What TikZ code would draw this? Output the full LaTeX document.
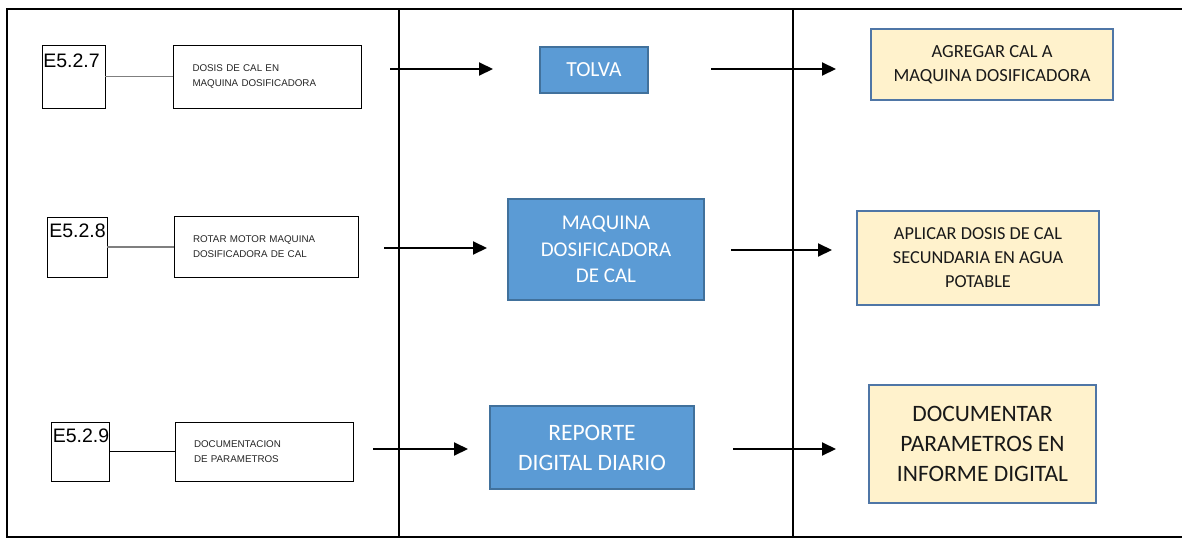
\documentclass[tikz,border=0pt]{standalone}
\usepackage{fontspec}
\setmainfont{Carlito}
\newfontfamily\arialfont{Liberation Sans}
\usetikzlibrary{calc,arrows.meta}

\definecolor{procblue}{HTML}{5B9BD5}
\definecolor{procedge}{HTML}{41719C}
\definecolor{taskfill}{HTML}{FFF2CC}
\definecolor{taskedge}{HTML}{4F76A6}
\definecolor{linkgray}{HTML}{7F7F7F}

\begin{document}
\begin{tikzpicture}[x=1pt,y=-1pt,
  frameline/.style={line width=2pt, black},
  codebox/.style={draw=black, line width=0.9pt, fill=white, inner sep=0pt},
  codetext/.style={anchor=base west, inner sep=0pt, font=\arialfont\fontsize{19.5}{22}\selectfont},
  descbox/.style={draw=black, line width=0.9pt, fill=white, inner xsep=19pt, inner ysep=0pt,
    align=left, font=\arialfont\fontsize{9.8}{14.3}\selectfont, text=black!85},
  procbox/.style={draw=procedge, line width=1.6pt, fill=procblue, text=white, align=center, inner sep=0pt},
  taskbox/.style={draw=taskedge, line width=2.4pt, fill=taskfill, text=black!90, align=center, inner sep=0pt},
  flow/.style={line width=2pt, -{Triangle[length=14pt,width=13pt]}},
  link/.style={line width=1.4pt}
]
\useasboundingbox (0,0) rectangle (1182,538);
\fill[white] (0,0) rectangle (1182,538);

% outer frame and column dividers
\draw[frameline] (1182,9) -- (7,9) -- (7,537) -- (1182,537);
\draw[frameline] (399,9) -- (399,537);
\draw[frameline] (793,9) -- (793,537);

% ---- row 1 ----
\node[codebox, minimum width=63pt, minimum height=63pt] (e1) at (73.5,76.5) {};
\node[codetext] (e1t) at ($(e1.north west)+(1.5,23)$) {E5.2.7};
\node[descbox, text width=150pt, minimum height=63pt] (d1) at (267.5,76.5)
  {DOSIS DE CAL EN\\MAQUINA DOSIFICADORA};
\draw[link, linkgray] (e1.east) -- (e1.east -| d1.west);

\node[procbox, minimum width=108pt, minimum height=46pt,
  font=\fontsize{21.5}{26}\selectfont] (p1) at (594,70) {TOLVA};
\node[taskbox, minimum width=242pt, minimum height=71pt,
  font=\fontsize{18.5}{23.5}\selectfont] (t1) at (992,64.5)
  {AGREGAR CAL A\\MAQUINA DOSIFICADORA};

\coordinate (a1s) at (390,69);
\coordinate (a1e) at (493,69);
\coordinate (b1s) at (711,69);
\coordinate (b1e) at (836,69);
\draw[flow] (a1s) -- (a1e);
\draw[flow] (b1s) -- (b1e);

% ---- row 2 ----
\node[codebox, minimum width=60pt, minimum height=60pt] (e2) at (77,247) {};
\node[codetext] (e2t) at ($(e2.north west)+(2.5,21)$) {E5.2.8};
\node[descbox, text width=146pt, minimum height=61pt] (d2) at (266,246.5)
  {ROTAR MOTOR MAQUINA\\DOSIFICADORA DE CAL};
\draw[link, linkgray] (e2.east) -- (e2.east -| d2.west);

\node[procbox, minimum width=196pt, minimum height=101pt,
  font=\fontsize{21}{26.5}\selectfont] (p2) at (606,249.5)
  {MAQUINA\\DOSIFICADORA\\DE CAL};
\node[taskbox, minimum width=242pt, minimum height=94pt,
  font=\fontsize{18.3}{24}\selectfont] (t2) at (978,258)
  {APLICAR DOSIS DE CAL\\SECUNDARIA EN AGUA\\POTABLE};

\coordinate (a2s) at (384,248);
\coordinate (a2e) at (487,248);
\coordinate (b2s) at (731,250);
\coordinate (b2e) at (832,250);
\draw[flow] (a2s) -- (a2e);
\draw[flow] (b2s) -- (b2e);

% ---- row 3 ----
\node[codebox, minimum width=58pt, minimum height=59pt] (e3) at (80,451.5) {};
\node[codetext] (e3t) at ($(e3.north west)+(2,21)$) {E5.2.9};
\node[descbox, text width=140pt, minimum height=59pt] (d3) at (264,451.5)
  {DOCUMENTACION\\DE PARAMETROS};
\draw[link, black] (e3.east) -- (e3.east -| d3.west);

\node[procbox, minimum width=204pt, minimum height=83pt,
  font=\fontsize{23.5}{30}\selectfont] (p3) at (592,447.5)
  {REPORTE\\DIGITAL DIARIO};
\node[taskbox, minimum width=227pt, minimum height=118pt,
  font=\fontsize{23.5}{30}\selectfont] (t3) at (982.5,444)
  {DOCUMENTAR\\PARAMETROS EN\\INFORME DIGITAL};

\coordinate (a3s) at (373,449);
\coordinate (a3e) at (468,449);
\coordinate (b3s) at (733,449);
\coordinate (b3e) at (836,449);
\draw[flow] (a3s) -- (a3e);
\draw[flow] (b3s) -- (b3e);
\end{tikzpicture}
\end{document}
